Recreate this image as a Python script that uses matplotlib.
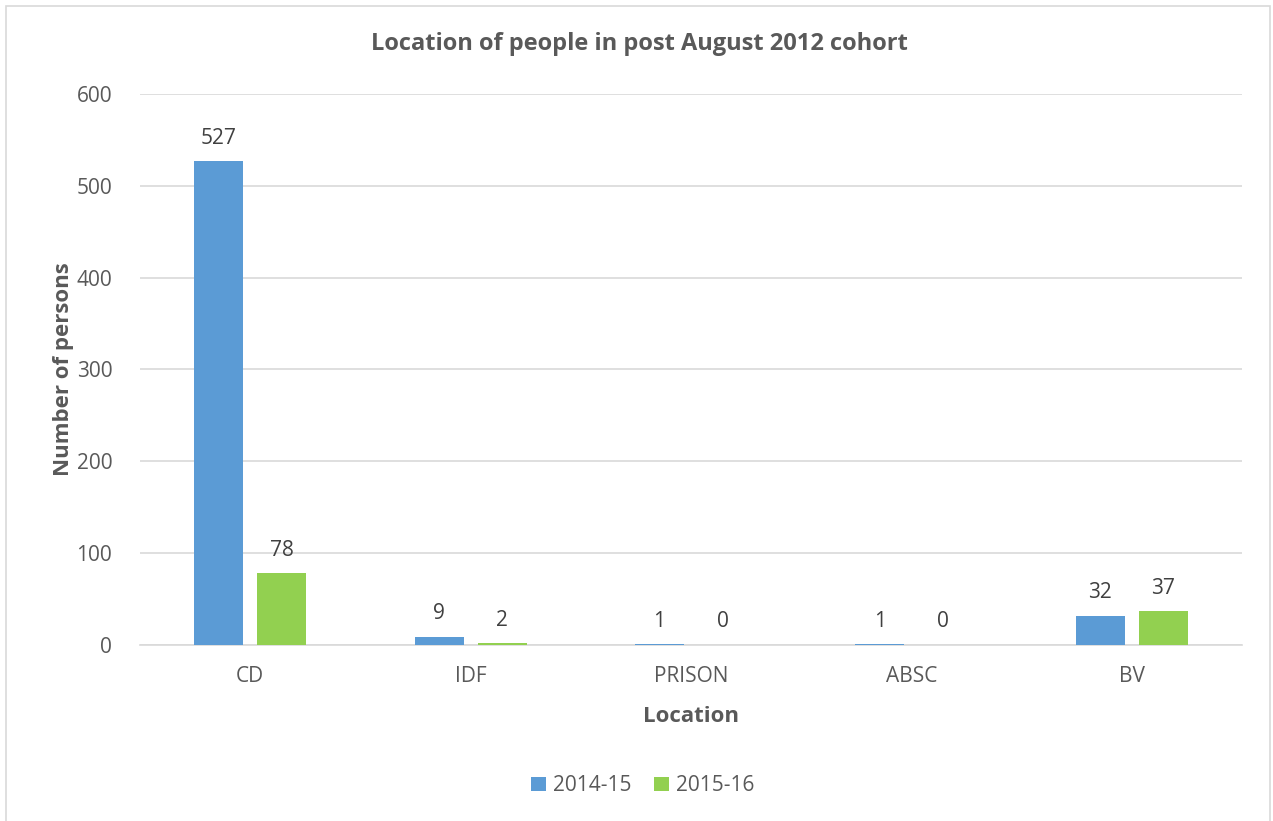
import matplotlib
matplotlib.use("Agg")
import matplotlib.pyplot as plt
import numpy as np
from matplotlib.patches import Rectangle

categories = ["CD", "IDF", "PRISON", "ABSC", "BV"]
series_names = ["2014-15", "2015-16"]
values_2014 = [527, 9, 1, 1, 32]
values_2015 = [78, 2, 0, 0, 37]

plt.rcParams['font.family'] = ['Open Sans', 'DejaVu Sans']
TXT = "#595959"
BLUE = "#5B9BD5"
GREEN = "#92D050"

fig = plt.figure(figsize=(12.73, 8.21), dpi=100)
ax = fig.add_axes([0.110, 0.2144, 0.8657, 0.6711])

x = np.arange(len(categories))
w = 0.222
off = 0.143
b1 = ax.bar(x - off, values_2014, w, color=BLUE, label=series_names[0], zorder=3)
b2 = ax.bar(x + off, values_2015, w, color=GREEN, label=series_names[1], zorder=3)

for bars, vals in ((b1, values_2014), (b2, values_2015)):
    for r, v in zip(bars, vals):
        ax.annotate(str(v), (r.get_x() + r.get_width() / 2, r.get_height()),
                    xytext=(0, 9), textcoords="offset points", ha="center", va="bottom",
                    fontsize=15, color="#404040")

ax.set_xlim(-0.5, len(categories) - 0.5)
ax.set_ylim(0, 600)
ax.set_yticks(range(0, 601, 100))
ax.set_xticks(x)
ax.set_xticklabels(categories)
ax.tick_params(axis='both', length=0, labelsize=15, labelcolor=TXT)
ax.tick_params(axis='y', pad=20)
ax.tick_params(axis='x', pad=15)
ax.grid(axis='y', color="#D9D9D9", linewidth=1.2, zorder=0)
for s in ("top", "right", "left"):
    ax.spines[s].set_visible(False)
ax.spines["bottom"].set_color("#D9D9D9")
ax.spines["bottom"].set_linewidth(1.2)

fig.text(0.502, 1 - 44 / 821, "Location of people in post August 2012 cohort", fontsize=17,
         fontweight="bold", color=TXT, ha="center", va="center")
ax.set_ylabel("Number of persons", fontsize=16, fontweight="bold", color=TXT, labelpad=2)
ax.set_xlabel("Location", fontsize=16, fontweight="bold", color=TXT, labelpad=14)

leg = fig.legend(loc="center", bbox_to_anchor=(0.505, 0.043), ncol=2, frameon=False,
                 fontsize=15, handlelength=0.7, handleheight=0.7, columnspacing=1.1,
                 handletextpad=0.35)
for t in leg.get_texts():
    t.set_color(TXT)

fig.patches.append(Rectangle((6 / 1273, -0.05), (1270 - 6) / 1273, 1.05 - 6 / 821,
                             transform=fig.transFigure, fill=False,
                             edgecolor="#D9D9D9", linewidth=1.2))

fig.savefig("out.png", dpi=100)
